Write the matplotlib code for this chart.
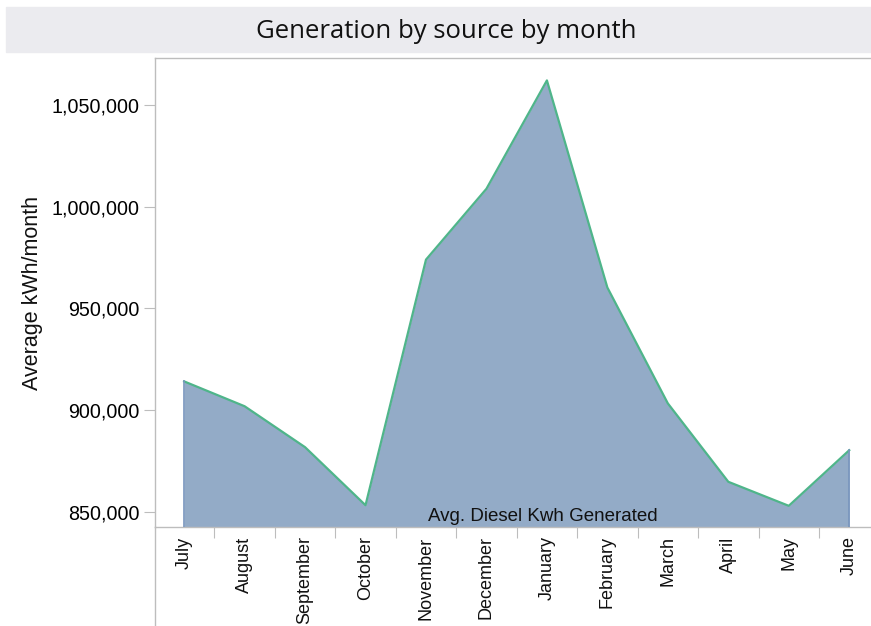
import numpy as np
import matplotlib.pyplot as plt
from matplotlib.ticker import FuncFormatter
from matplotlib.patches import Rectangle
from matplotlib.lines import Line2D

plt.rcParams['font.family'] = ['Liberation Sans', 'DejaVu Sans']

# data
months = ['July', 'August', 'September', 'October', 'November', 'December',
          'January', 'February', 'March', 'April', 'May', 'June']
diesel_kwh = [914200, 902000, 881900, 853400, 974000, 1008800,
              1062000, 960300, 903400, 864900, 853100, 880400]
y_ticks = [850000, 900000, 950000, 1000000, 1050000]
series_label = 'Avg. Diesel Kwh Generated'

W, H = 871, 626
fig = plt.figure(figsize=(W / 100, H / 100), dpi=100)

# title band
fig.patches.append(Rectangle((6 / W, 1 - 52 / H), 1 - 6 / W, 45 / H,
                             transform=fig.transFigure, color='#ebebef', zorder=0))
fig.text(446 / W, 1 - 32 / H, 'Generation by source by month', ha='center', va='center',
         fontsize=18.5, family=['Open Sans', 'DejaVu Sans'], color='#111111')

ax = fig.add_axes([154.5 / W, 1 - 527 / H, 1 - 154.5 / W, (527 - 58) / H])

x = np.arange(len(months))
ylo, yhi = 842700, 1073000
ax.set_xlim(-0.49, 11.36)
ax.set_ylim(ylo, yhi)

ax.fill_between(x, diesel_kwh, ylo, color='#93abc7', linewidth=0, zorder=2)
ax.plot(x, diesel_kwh, color='#4fb58a', linewidth=1.6, zorder=3)
# vertical edges of the area
ax.plot([x[0], x[0]], [ylo, diesel_kwh[0]], color='#7895bd', linewidth=1.2, zorder=3)
ax.plot([x[-1], x[-1]], [ylo, diesel_kwh[-1]], color='#7895bd', linewidth=1.2, zorder=3)

ax.text(5.93, ylo + 1000, series_label, ha='center', va='bottom', fontsize=13.5,
        color='#111111', zorder=4)

for side in ['top', 'left', 'bottom']:
    ax.spines[side].set_color('#bdbdbd')
    ax.spines[side].set_linewidth(1.0)
ax.spines['right'].set_visible(False)

ax.set_yticks(y_ticks)
ax.yaxis.set_major_formatter(FuncFormatter(lambda v, p: f'{int(v):,}'))
ax.tick_params(axis='y', length=8, color='#bdbdbd', labelsize=14.2, pad=3)

# month ticks on category boundaries, labels at centres
ax.set_xticks(np.arange(0.5, len(months) - 0.5, 1.0))
ax.set_xticklabels([])
ax.tick_params(axis='x', length=8, color='#bdbdbd')
for i, m in enumerate(months):
    ax.text(i, -0.02, m, rotation=90, ha='center', va='top', fontsize=13,
            transform=ax.get_xaxis_transform(), color='#111111')

ax.set_ylabel('Average kWh/month', fontsize=15.5, labelpad=6, color='#111111')

# left border line of the month header area
fig.add_artist(Line2D([154.5 / W, 154.5 / W], [0, 1 - 527 / H],
                      transform=fig.transFigure, color='#bdbdbd', linewidth=1.0))

fig.savefig('out.png', dpi=100)
